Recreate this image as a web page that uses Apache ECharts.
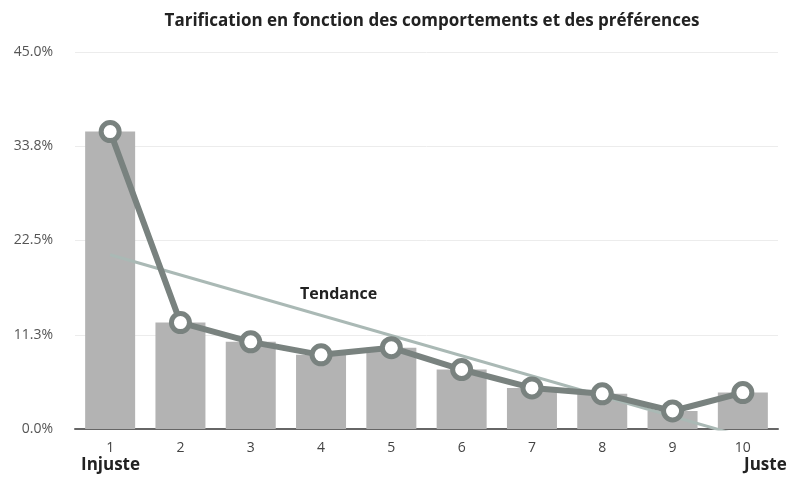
<!DOCTYPE html>
<html>
<head>
<meta charset="utf-8">
<script src="https://cdn.jsdelivr.net/npm/echarts@6/dist/echarts.min.js"></script>
<style>
    html, body { margin: 0; padding: 0; background: #fff; }
    #chart { width: 787px; height: 481px; }
</style>
</head>
<body>
<div id="chart"></div>
<script>
    // données
    var categories = ['1', '2', '3', '4', '5', '6', '7', '8', '9', '10'];
    var values = [35.5, 12.7, 10.4, 8.85, 9.7, 7.1, 4.9, 4.2, 2.15, 4.35];
    var trendPoints = [[0, 20.8], [9, -0.9]];   // droite de tendance (début / fin)
    var yTicks = [0, 11.25, 22.5, 33.75, 45];

    var myChart = echarts.init(document.getElementById('chart'));
    myChart.setOption({
        animation: false,
        title: {
            text: 'Tarification en fonction des comportements et des préférences',
            left: 427,
            textAlign: 'center',
            top: 8,
            textStyle: {
                fontFamily: 'Open Sans',
                fontSize: 17,
                fontWeight: 'bold',
                color: '#222'
            }
        },
        grid: {
            left: 75,
            right: 9,
            top: 52,
            bottom: 52
        },
        xAxis: {
            type: 'category',
            data: categories,
            axisLine: { lineStyle: { color: '#666', width: 2 } },
            axisTick: { show: false },
            axisLabel: {
                margin: 12,
                color: '#444',
                fontSize: 14,
                fontFamily: 'Open Sans'
            }
        },
        yAxis: {
            type: 'value',
            min: yTicks[0],
            max: yTicks[yTicks.length - 1],
            interval: yTicks[1] - yTicks[0],
            axisLine: { show: false },
            axisTick: { show: false },
            splitLine: { lineStyle: { color: '#ececec', width: 1 } },
            axisLabel: {
                margin: 22,
                color: '#555',
                fontSize: 14,
                fontFamily: 'Open Sans',
                formatter: function (v) { return v.toFixed(1) + '%'; }
            }
        },
        graphic: [
            {
                type: 'text', left: 300, top: 286,
                style: { text: 'Tendance', fontFamily: 'Open Sans', fontSize: 16, fontWeight: 'bold', fill: '#222' }
            },
            {
                type: 'text', left: 81, top: 457,
                style: { text: 'Injuste', fontFamily: 'Open Sans', fontSize: 17, fontWeight: 'bold', fill: '#222' }
            },
            {
                type: 'text', left: 744, top: 457,
                style: { text: 'Juste', fontFamily: 'Open Sans', fontSize: 17, fontWeight: 'bold', fill: '#222' }
            }
        ],
        series: [
            {
                name: 'Réponses',
                type: 'bar',
                data: values,
                barWidth: 50,
                itemStyle: { color: '#b3b3b3' }
            },
            {
                name: 'Tendance',
                type: 'line',
                data: trendPoints,
                clip: true,
                symbol: 'none',
                lineStyle: { color: '#aab9b5', width: 3 },
                z: 3
            },
            {
                name: 'Courbe',
                type: 'line',
                data: values,
                symbol: 'circle',
                symbolSize: 18,
                lineStyle: { color: '#79827f', width: 6 },
                itemStyle: { color: '#fff', borderColor: '#79827f', borderWidth: 5 },
                z: 4
            }
        ]
    });
</script>
</body>
</html>
